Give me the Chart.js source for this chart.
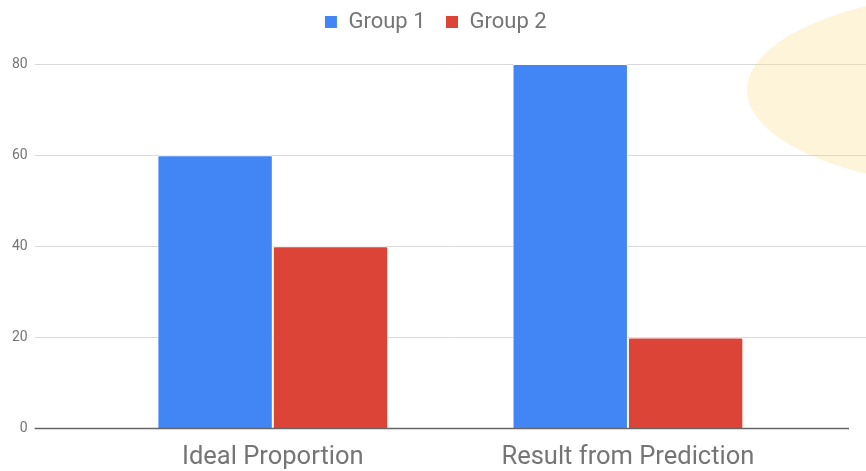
<!DOCTYPE html>
<html>
<head>
<meta charset="utf-8">
<script src="https://cdn.jsdelivr.net/npm/chart.js@4/dist/chart.umd.min.js"></script>
<style>
  html, body { margin: 0; padding: 0; background: #fff; }
  #wrap { width: 866px; height: 471px; position: relative; }
</style>
</head>
<body>
<div id="wrap"><canvas id="chart"></canvas></div>
<script>
const categories = ['Ideal Proportion', 'Result from Prediction'];
const group1 = [60, 80];
const group2 = [40, 20];
const yTicks = [0, 20, 40, 60, 80];

const toPoints = vals => vals.map((v, i) => ({ x: i, y: v }));

// push the plot down below the legend
const legendGap = {
    id: 'legendGap',
    beforeInit(chart) {
        const fit = chart.legend.fit;
        chart.legend.fit = function () {
            fit.call(this);
            this.height += 21;
        };
    }
};

// soft yellow blob in the top right corner + dark zero line
const decor = {
    id: 'decor',
    afterDatasetsDraw(chart) {
        const c = chart.ctx;
        const area = chart.chartArea;
        const y0 = chart.scales.y.getPixelForValue(0);
        c.save();
        c.strokeStyle = '#666';
        c.lineWidth = 1.5;
        c.beginPath();
        c.moveTo(area.left, y0);
        c.lineTo(area.right - 17, y0);
        c.stroke();
        c.restore();
    },
    afterDraw(chart) {
        const c = chart.ctx;
        c.save();
        c.fillStyle = 'rgba(252, 215, 120, 0.27)';
        c.beginPath();
        c.ellipse(1009, 90, 262, 100, 0, 0, Math.PI * 2);
        c.fill();
        c.restore();
    }
};

let ctx = document.getElementById('chart');
let chart = new Chart(ctx, {
    type: 'bar',
    data: {
        datasets: [{
            label: 'Group 1',
            data: toPoints(group1),
            backgroundColor: '#4285f4',
            borderColor: '#ffffff',
            borderWidth: 1,
            borderRadius: 2
        }, {
            label: 'Group 2',
            data: toPoints(group2),
            backgroundColor: '#db4437',
            borderColor: '#ffffff',
            borderWidth: 1,
            borderRadius: 2
        }]
    },
    options: {
        responsive: true,
        maintainAspectRatio: false,
        animation: false,
        categoryPercentage: 0.65,
        barPercentage: 1,
        layout: { padding: { left: 5, right: 0, top: -9, bottom: 0 } },
        plugins: {
            tooltip: { enabled: false },
            legend: {
                position: 'top',
                labels: {
                    boxWidth: 13,
                    boxHeight: 13,
                    padding: 20,
                    color: '#757575',
                    font: { family: 'Roboto', size: 22 }
                }
            }
        },
        scales: {
            x: {
                type: 'linear',
                offset: false,
                min: -0.6704,
                max: 1.6704,
                grid: { display: false, drawTicks: true, tickLength: 15 },
                border: { display: false },
                afterBuildTicks: scale => {
                    scale.ticks = categories.map((c, i) => ({ value: i }));
                },
                ticks: {
                    autoSkip: false,
                    maxRotation: 0,
                    padding: 1,
                    color: '#757575',
                    font: { family: 'Roboto', size: 25.5, lineHeight: 1 },
                    callback: value => categories[value]
                }
            },
            y: {
                min: 0,
                max: 80,
                afterBuildTicks: scale => {
                    scale.ticks = yTicks.map(v => ({ value: v }));
                },
                border: { display: false },
                grid: {
                    drawTicks: false,
                    color: c => c.tick && c.tick.value === 0 ? 'rgba(0,0,0,0)' : '#d9d9d9'
                },
                ticks: {
                    padding: 7,
                    color: '#757575',
                    font: { family: 'Roboto', size: 14 }
                }
            }
        }
    },
    plugins: [legendGap, decor]
});
</script>
</body>
</html>
